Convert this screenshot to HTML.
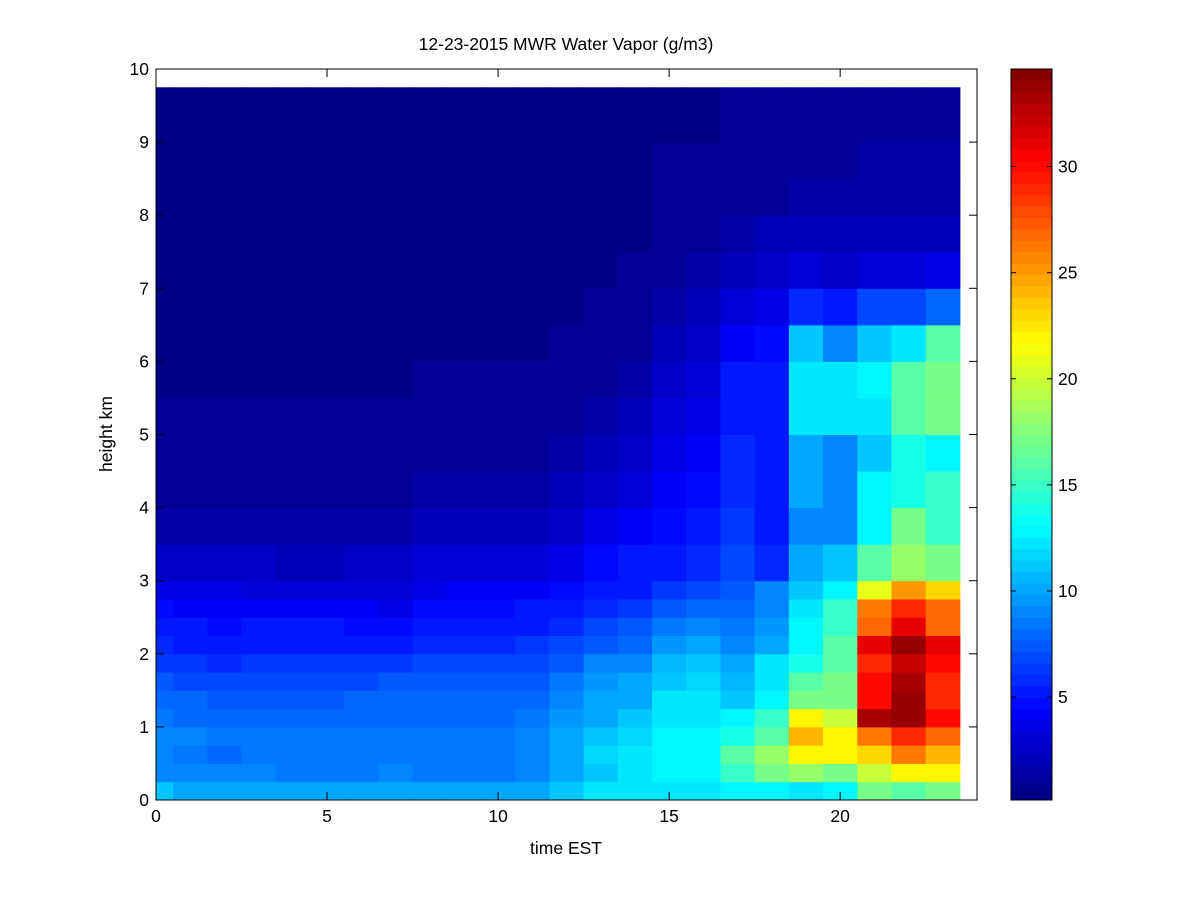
<!DOCTYPE html>
<html><head><meta charset="utf-8"><style>
body{margin:0;background:#fff;}
svg text{font-family:"Liberation Sans",sans-serif;font-size:17.5px;fill:#000;}
</style></head><body>
<svg id="chart" width="1200" height="900" xmlns="http://www.w3.org/2000/svg">
<rect width="1200" height="900" fill="#fff"/>
<g id="cells"></g>
<g id="axes"></g>
<g id="cbar"></g>
<text x="566" y="50" text-anchor="middle">12-23-2015 MWR Water Vapor (g/m3)</text>
<text x="566" y="854" text-anchor="middle">time EST</text>
<text x="112" y="434" text-anchor="middle" transform="rotate(-90 112 434)">height km</text>
</svg>
<script>
const hours=[0,1,2,3,4,5,6,7,8,9,10,11,12,13,14,15,16,17,18,19,20,21,22,23];
const colEdges=[0,0.5,1.5,2.5,3.5,4.5,5.5,6.5,7.5,8.5,9.5,10.5,11.5,12.5,13.5,14.5,15.5,16.5,17.5,18.5,19.5,20.5,21.5,22.5,23.5];
const heightEdges=[0,0.25,0.5,0.75,1,1.25,1.5,1.75,2,2.25,2.5,2.75,3,3.5,4,4.5,5,5.5,6,6.5,7,7.5,8,8.5,9,9.75];
const xTicks=[0,5,10,15,20];
const yTicks=[0,1,2,3,4,5,6,7,8,9,10];
const cTicks=[5,10,15,20,25,30];
const cMin=0.15, cMax=34.6;
const h0=[11,9,9,9,8.5,8,7.5,6.5,6,5,4.5,3.5,2.5,1.5,1,0.8,0.7,0.6,0.6,0.5,0.5,0.5,0.5,0.5,0.5];
const h1=[10,9,8.5,9,8,8,7,6.5,5.5,5,4,3.5,2.5,1.5,1,0.8,0.7,0.6,0.6,0.5,0.5,0.5,0.5,0.5,0.5];
const h2=[10,9,8,8.5,8,7.5,7,6,5.5,4.5,4,3.5,2.5,1.5,1,0.8,0.7,0.6,0.6,0.5,0.5,0.5,0.5,0.5,0.5];
const h3=[10,9,8.5,8.5,8,7.5,7,6.5,5.5,5,4,3,2.5,1.5,1,0.8,0.7,0.6,0.6,0.5,0.5,0.5,0.5,0.5,0.5];
const h4=[10,8.5,8.5,8.5,8,7.5,7,6.5,5.5,5,4,3,2.3,1.5,1,0.8,0.7,0.6,0.6,0.5,0.5,0.5,0.5,0.5,0.5];
const h5=[10,8.5,8.5,8.5,8,7.5,7,6.5,5.5,5,4,3,2.3,1.5,1,0.8,0.7,0.6,0.6,0.5,0.5,0.5,0.5,0.5,0.5];
const h6=[10,8.5,8.5,8.5,8,8,7,6.5,5.5,4.5,4,3.2,2.5,1.5,1,0.8,0.7,0.6,0.6,0.5,0.5,0.5,0.5,0.5,0.5];
const h7=[10,9,8.5,8.5,8,8,7.5,6.5,5.5,4.5,3.8,3.2,2.5,1.6,1.1,0.8,0.7,0.6,0.6,0.5,0.5,0.5,0.5,0.5,0.5];
const h8=[10,8.5,8.5,8.5,8,8,7.5,7,6,5.5,4.5,3.8,3,2,1.4,1,0.8,0.7,0.6,0.5,0.5,0.5,0.5,0.5,0.5];
const h9=[10,8.5,8.5,8.5,8,8,7.5,7,6,5.5,4.5,4,3,2,1.5,1,0.8,0.7,0.6,0.5,0.5,0.5,0.5,0.5,0.5];
const h10=[10,8.5,8.5,8.5,8,8,7.5,7,6,5.5,4.5,4,3,2,1.5,1,0.8,0.7,0.6,0.5,0.5,0.5,0.5,0.5,0.5];
const h11=[10,9,9,9,8.5,8,7.5,7,6.5,5.5,5,4,3,2.2,1.6,1.1,0.9,0.7,0.6,0.5,0.5,0.5,0.5,0.5,0.5];
const h12=[11,10,10,10,9.5,9,8.5,7.5,7,6,5,4.5,3.5,2.5,1.8,1.3,1,0.8,0.7,0.6,0.5,0.5,0.5,0.5,0.5];
const h13=[12,11,11.5,11,10,10,9.5,9,7.5,7,6,5,4.5,3.5,2.5,2,1.5,1.2,1,0.8,0.6,0.5,0.5,0.5,0.5];
const h14=[12,12,12,11.5,11,10,10,9,8,7.5,6.5,5.5,5,4,3,2.5,2,1.5,1.2,1,0.8,0.6,0.5,0.5,0.5];
const h15=[12,13,13,13,12.5,12,11,10.5,9.5,8.5,7.5,6.5,5.5,4.5,4,3.5,3,2.5,2,1.5,1.2,1,0.8,0.7,0.6];
const h16=[12,13,13,13,12.5,12,11.5,11,10,9,8,7,6,5,4.5,4,3.5,3,2.5,2,1.5,1.2,1,0.8,0.6];
const h17=[13,15,16,14,13,11,10.5,10,9,8.5,8,7.5,7,6.5,6,6,5.5,5,4,3,2,1.5,1.2,1,0.8];
const h18=[13,17,18,16,15,13,12.5,12,10,9.5,9,9,6,5.5,5,5,5,5,4.5,3.5,2.5,1.8,1.2,1,0.8];
const h19=[12,18,22,24,22,17,16,14,13,13,12,11,10,9,10,10,12,12,11,6,3,2,1.4,1.2,1];
const h20=[13,17,22,22,20,17,17,16,16,15,15,13,11,9,9,9,12,12,9,5,2.5,1.8,1.4,1.2,1];
const h21=[17,20,23,26,33,30,30,29,31,27,26,21,16,13,13,11,12,13,11,7,3,2,1.5,1.3,1.1];
const h22=[16,22,26,29,34,34,33,32,34,31,29,25,18,17,14,14,16,16,12,7,3,2,1.5,1.3,1.1];
const h23=[17,22,24,27,30,29,29,30,31,27,27,23,17,15,15,13,17,17,16,8,3.5,2,1.5,1.3,1.1];
const columns=[h0,h1,h2,h3,h4,h5,h6,h7,h8,h9,h10,h11,h12,h13,h14,h15,h16,h17,h18,h19,h20,h21,h22,h23];

const X0=156,X1=977,Y0=800,Y1=69;
const xMax=24, yMax=10;
const xs=v=>X0+(X1-X0)*v/xMax;
const ys=v=>Y0-(Y0-Y1)*v/yMax;
const CB={x0:1011,x1:1052};
const cs=v=>Y0-(Y0-Y1)*(v-cMin)/(cMax-cMin);
const NS='http://www.w3.org/2000/svg';
function jet(v){
  let t=(v-cMin)/(cMax-cMin);t=Math.max(0,Math.min(1,t));
  let i=Math.min(63,Math.floor(t*64));t=(i+0.5)/64;
  const c=x=>Math.round(255*Math.max(0,Math.min(1,x)));
  return `rgb(${c(1.5-Math.abs(4*t-3))},${c(1.5-Math.abs(4*t-2))},${c(1.5-Math.abs(4*t-1))})`;
}
function mk(tag,attrs,parent){const e=document.createElementNS(NS,tag);for(const k in attrs)e.setAttribute(k,attrs[k]);parent.appendChild(e);return e;}
const cells=document.getElementById('cells');
columns.forEach((col,ci)=>{
  col.forEach((v,ri)=>{
    const x=xs(colEdges[ci]),x2=xs(colEdges[ci+1]);
    const y=ys(heightEdges[ri+1]),y2=ys(heightEdges[ri]);
    const r=mk('rect',{x:x,y:y,width:x2-x+0.5,height:y2-y+0.5,fill:jet(v)},cells);
    
    
  });
});
const ax=document.getElementById('axes');
const box=mk('rect',{x:X0,y:Y1,width:X1-X0,height:Y0-Y1,fill:'none',stroke:'#000','stroke-width':1},ax);


xTicks.forEach(v=>{
  const x=xs(v);
  mk('line',{x1:x,x2:x,y1:Y0,y2:Y0-8,stroke:'#000'},ax);
  mk('line',{x1:x,x2:x,y1:Y1,y2:Y1+8,stroke:'#000'},ax);
  const t=mk('text',{x:x,y:Y0+22,'text-anchor':'middle'},ax);t.textContent=v;
  
  
});
yTicks.forEach(v=>{
  const y=ys(v);
  mk('line',{x1:X0,x2:X0+8,y1:y,y2:y,stroke:'#000'},ax);
  mk('line',{x1:X1,x2:X1-8,y1:y,y2:y,stroke:'#000'},ax);
  const t=mk('text',{x:X0-7,y:y+6,'text-anchor':'end'},ax);t.textContent=v;
  
  
});
const cb=document.getElementById('cbar');
for(let i=0;i<64;i++){
  const v0=cMin+(cMax-cMin)*i/64, v1=cMin+(cMax-cMin)*(i+1)/64;
  const r=mk('rect',{x:CB.x0,y:cs(v1),width:CB.x1-CB.x0,height:cs(v0)-cs(v1)+0.5,fill:jet((v0+v1)/2)},cb);
  
  
}
mk('rect',{x:CB.x0,y:Y1,width:CB.x1-CB.x0,height:Y0-Y1,fill:'none',stroke:'#000'},cb);
cTicks.forEach(v=>{
  const y=cs(v);
  mk('line',{x1:CB.x0,x2:CB.x0+5,y1:y,y2:y,stroke:'#000'},cb);
  mk('line',{x1:CB.x1,x2:CB.x1-5,y1:y,y2:y,stroke:'#000'},cb);
  const t=mk('text',{x:CB.x1+6,y:y+6},cb);t.textContent=v;
  
  
});
</script>
</body></html>
